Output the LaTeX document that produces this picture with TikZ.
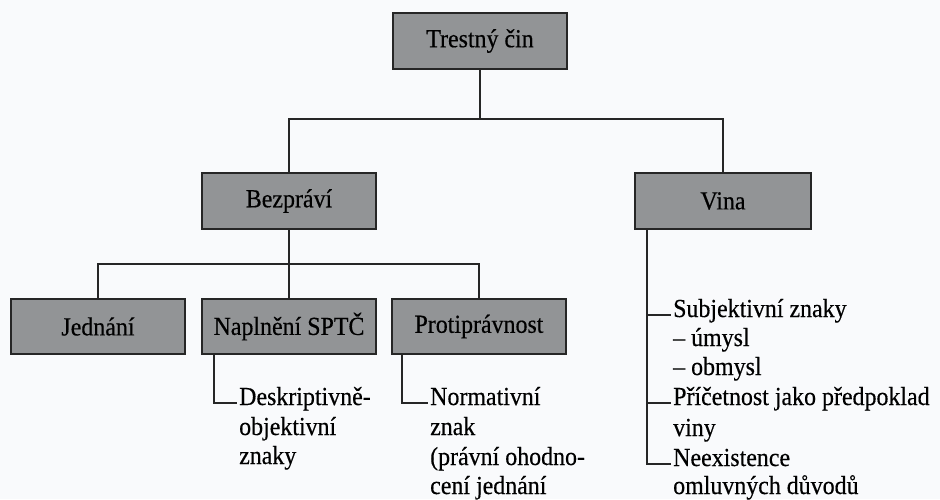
\documentclass[tikz,border=0pt]{standalone}
\usepackage{fontspec}
\setmainfont{Liberation Serif}[FakeStretch=0.92,FakeBold=0.4]
\definecolor{bgcol}{RGB}{249,250,252}
\definecolor{boxgray}{RGB}{146,148,150}
\begin{document}
\begin{tikzpicture}[x=1pt,y=-1pt,
  font=\fontsize{26}{29}\selectfont,
  box/.style={draw=black!85, line width=1.6pt, fill=boxgray, minimum width=174pt, minimum height=56pt, inner sep=0pt},
  conn/.style={line width=1.6pt, draw=black!85},
  item/.style={anchor=base west, inner xsep=2pt, inner ysep=0pt, text height=0.68em, text depth=0.22em}]
\fill[bgcol] (0,0) rectangle (940,499);
\useasboundingbox (0,0) rectangle (940,499);
% boxes
\node[box] (tc) at (480,41) {Trestný čin};
\node[box] (bez) at (289,201) {Bezpráví};
\node[box, minimum width=176pt] (vina) at (723,201) {Vina};
\node[box, minimum height=55pt] (jed) at (98,326.5) {Jednání};
\node[box, minimum height=55pt] (nap) at (289,326.5) {Naplnění SPTČ};
\node[box, minimum height=55pt] (pro) at (479,326.5) {Protiprávnost};
% text items
\node[item] (d1) at (237,405) {Deskriptivně-};
\node[item] (d2) at (237,435) {objektivní};
\node[item] (d3) at (237,464) {znaky};
\node[item] (m1) at (428,405) {Normativní};
\node[item] (m2) at (428,435) {znak};
\node[item] (m3) at (428,465) {(právní ohodno-};
\node[item] (m4) at (428,494) {cení jednání};
\node[item] (s1) at (671,317) {Subjektivní znaky};
\node[item] (s2) at (671,346) {– úmysl};
\node[item] (s3) at (671,375) {– obmysl};
\node[item] (p1) at (671,405) {Příčetnost jako předpoklad};
\node[item] (p2) at (671,436) {viny};
\node[item] (n1) at (671,466) {Neexistence};
\node[item] (n2) at (671,494) {omluvných důvodů};
% connectors
\coordinate (j1) at (480,119);
\coordinate (j2) at (289,264);
\draw[conn] (tc.south) -- (j1);
\draw[conn] (bez.north) |- (j1) -| (vina.north);
\draw[conn] (bez.south) -- (nap.north);
\draw[conn] (jed.north) |- (j2) -| (pro.north);
\draw[conn] ([xshift=13pt]nap.south west) |- (d1.west);
\draw[conn] ([xshift=11pt]pro.south west) |- (m1.west);
\coordinate (vr) at ([xshift=13pt]vina.south west);
\draw[conn] (vr) |- (n1.west);
\draw[conn] (vr |- s1.west) -- (s1.west);
\draw[conn] (vr |- p1.west) -- (p1.west);
\end{tikzpicture}
\end{document}
